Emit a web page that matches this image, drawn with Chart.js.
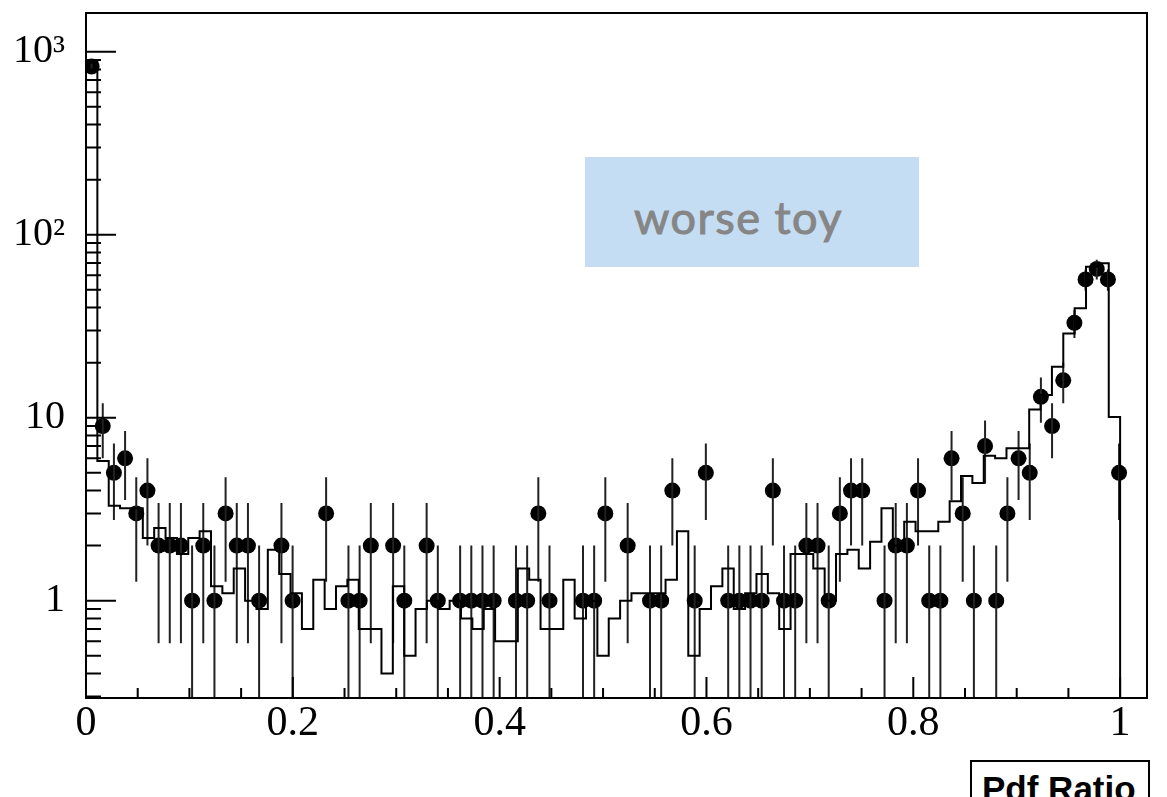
<!DOCTYPE html>
<html>
<head>
<meta charset="utf-8">
<script src="https://cdn.jsdelivr.net/npm/chart.js@4.4.0/dist/chart.umd.min.js"></script>
<style>
  html, body { margin: 0; padding: 0; background: #fff; overflow: hidden; }
  #wrap { position: relative; width: 1167px; height: 797px; }
  #c { position: absolute; left: 0; top: 0; }
  #toy { position: absolute; left: 585px; top: 157px; width: 334px; height: 110px; background: #c5ddf2; }
  #toy span { position: absolute; left: 49px; top: 38px; font: 45px Lato, "Open Sans", sans-serif; line-height: 45px;
              color: #868686; -webkit-text-stroke: 1px #868686; letter-spacing: 1.5px; white-space: nowrap; }
  #xtitle { position: absolute; left: 970px; top: 760px; width: 180px; height: 50px; border: 2px solid #000;
            background: #fff; box-sizing: border-box; }
  #xtitle span { position: absolute; left: 10px; top: 7px; font: bold 35px "Liberation Sans", Arial, sans-serif;
                 line-height: 40px; color: #000; white-space: nowrap; }
</style>
</head>
<body>
<div id="wrap">
  <canvas id="c" width="1167" height="797"></canvas>
  <div id="toy"><span>worse toy</span></div>
  <div id="xtitle"><span>Pdf Ratio</span></div>
</div>
<script>
// data histogram: 95 bins over [0, 1.026]
const dataXMax = 1.026;
const dataCounts = [830, 9, 5, 6, 3, 4, 2, 2, 2, 1,
  2, 1, 3, 2, 2, 1, 0, 2, 1, 0,
  0, 3, 0, 1, 1, 2, 0, 2, 1, 0,
  2, 1, 0, 1, 1, 1, 1, 0, 1, 1,
  3, 1, 0, 0, 1, 1, 3, 0, 2, 0,
  1, 1, 4, 0, 1, 5, 0, 1, 1, 1,
  1, 4, 1, 1, 2, 2, 1, 3, 4, 4,
  0, 1, 2, 2, 4, 1, 1, 6, 3, 1,
  7, 1, 3, 6, 5, 13, 9, 16, 33, 57,
  65, 57, 5, 0, 0];

// toy / MC histogram drawn as steps: 91 bins over [0, 1]
const mcXMax = 1.0;
const mcCounts = [880, 5.8, 3.3, 3.2, 3.2, 2.2, 2.5, 2.2, 1.8, 2.2,
  2.4, 1.2, 1.1, 1.5, 1.0, 0.9, 1.9, 1.4, 1.1, 0.7,
  1.3, 0.9, 1.2, 1.3, 0.7, 0.7, 0.4, 1.2, 0.5, 0.9,
  1.0, 0.9, 1.0, 0.8, 0.7, 0.9, 0.6, 0.6, 1.5, 1.3,
  0.7, 0.7, 1.3, 0.8, 1.0, 0.5, 0.8, 1.0, 1.1, 1.1,
  1.1, 1.3, 2.4, 0.5, 0.9, 1.2, 1.5, 0.9, 1.1, 1.4,
  1.1, 0.7, 1.8, 1.8, 1.5, 1.0, 1.8, 1.9, 1.5, 2.1,
  3.2, 2.0, 2.7, 2.4, 2.4, 2.7, 3.5, 4.8, 4.4, 6.2,
  6.0, 6.8, 6.8, 11.1, 13.3, 19, 28.9, 39.6, 66.8, 69.8,
  10.1];

const xTickValues = [0, 0.2, 0.4, 0.6, 0.8, 1];
const xTickLabels = ["0", "0.2", "0.4", "0.6", "0.8", "1"];
const yTickValues = [1, 10, 100, 1000];
const yTickLabels = ["1", "10", "10\u00b2", "10\u00b3"];
const yMin = 0.294, yMax = 1628;

// build the chart data from the arrays
const dw = dataXMax / dataCounts.length;
const points = [];
const errBars = [];
dataCounts.forEach((n, i) => {
  if (n <= 0) return;
  const x = (i + 0.5) * dw;
  const e = Math.sqrt(n);
  points.push({ x: x, y: n });
  errBars.push({ x: x, y: Math.max(n - e, 1e-3) });
  errBars.push({ x: x, y: n + e });
  errBars.push({ x: x, y: null });
});

const mw = mcXMax / mcCounts.length;
const steps = [{ x: 0, y: 1e-3 }];
mcCounts.forEach((v, k) => {
  steps.push({ x: k * mw, y: v });
  steps.push({ x: (k + 1) * mw, y: v });
});
steps.push({ x: mcXMax, y: 1e-3 });

// ROOT style frame + inward ticks
const rootFrame = {
  id: "rootFrame",
  afterDatasetsDraw(chart) {
    const { ctx, chartArea: a, scales } = chart;
    const xs = scales.x, ys = scales.y;
    ctx.save();
    ctx.strokeStyle = "#000";
    ctx.lineWidth = 2;
    ctx.beginPath();
    for (let t = 0; t <= 20; t++) {
      const px = xs.getPixelForValue(t * 0.05);
      const len = t % 4 === 0 ? 21 : 10;
      ctx.moveTo(px, a.bottom);
      ctx.lineTo(px, a.bottom - len);
    }
    for (let d = -1; d <= 3; d++) {
      for (let m = 1; m <= 9; m++) {
        const v = m * Math.pow(10, d);
        if (v < yMin || v > yMax) continue;
        const py = ys.getPixelForValue(v);
        const len = m === 1 ? 30 : 15;
        ctx.moveTo(a.left, py);
        ctx.lineTo(a.left + len, py);
      }
    }
    ctx.stroke();
    ctx.strokeRect(a.left, a.top, a.right - a.left, a.bottom - a.top);
    ctx.restore();
  }
};

new Chart(document.getElementById("c"), {
  type: "scatter",
  data: {
    datasets: [
      {
        type: "line", label: "toy", data: steps,
        borderColor: "#000", borderWidth: 2, pointRadius: 0, fill: false, tension: 0
      },
      {
        type: "line", label: "errors", data: errBars,
        borderColor: "#222", borderWidth: 2, pointRadius: 0, spanGaps: false, fill: false
      },
      {
        label: "data", data: points,
        backgroundColor: "#000", borderColor: "#000", borderWidth: 0,
        pointRadius: 8, pointHoverRadius: 8, pointBorderWidth: 0
      }
    ]
  },
  options: {
    responsive: false,
    animation: false,
    devicePixelRatio: 1,
    layout: { padding: { top: 13, right: 20, left: 0, bottom: 0 } },
    plugins: { legend: { display: false }, tooltip: { enabled: false } },
    scales: {
      x: {
        type: "linear", min: 0, max: dataXMax, bounds: "data",
        grid: { display: false }, border: { display: false },
        afterBuildTicks: s => { s.ticks = xTickValues.map(v => ({ value: v })); },
        afterFit: s => { s.height = 99; s.paddingLeft = 0; s.paddingRight = 0; },
        ticks: {
          autoSkip: false, maxRotation: 0, padding: -7, color: "#000",
          font: { family: "'Liberation Serif', 'Times New Roman', serif", size: 42 },
          callback: v => xTickLabels[xTickValues.indexOf(v)]
        }
      },
      y: {
        type: "logarithmic", min: yMin, max: yMax, bounds: "data",
        grid: { display: false }, border: { display: false },
        afterBuildTicks: s => { s.ticks = yTickValues.map(v => ({ value: v })); },
        afterFit: s => { s.width = 86; s.paddingTop = 0; s.paddingBottom = 0; },
        ticks: {
          autoSkip: false, padding: 13, color: "#000",
          font: { family: "'Liberation Serif', 'Times New Roman', serif", size: 40 },
          callback: v => yTickLabels[yTickValues.indexOf(v)]
        }
      }
    }
  },
  plugins: [rootFrame]
});
</script>
</body>
</html>
